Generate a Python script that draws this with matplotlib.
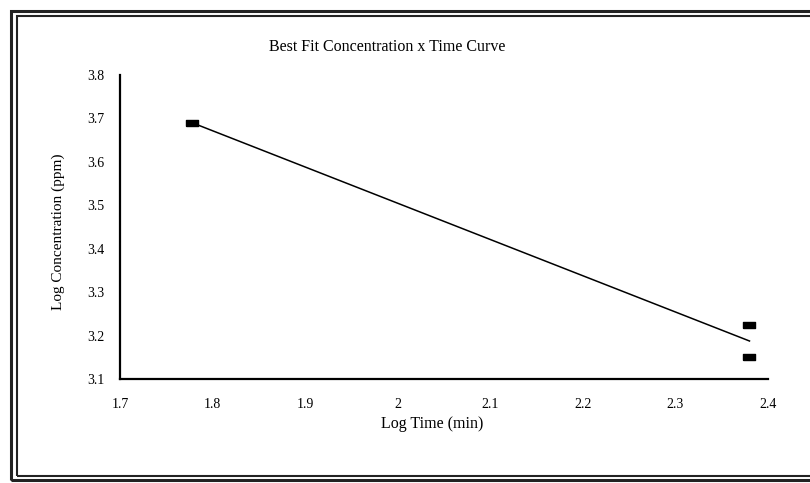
import numpy as np
import matplotlib
matplotlib.use('Agg')
import matplotlib.pyplot as plt
from matplotlib.patches import Rectangle

# data (log10 of time in min, log10 of concentration in ppm)
log_time = [1.778, 2.380, 2.380]
log_conc = [3.69, 3.225, 3.150]

xticks = [1.7, 1.8, 1.9, 2.0, 2.1, 2.2, 2.3, 2.4]
xtick_labels = ['1.7', '1.8', '1.9', '2', '2.1', '2.2', '2.3', '2.4']
yticks = [3.1, 3.2, 3.3, 3.4, 3.5, 3.6, 3.7, 3.8]
ytick_labels = ['3.1', '3.2', '3.3', '3.4', '3.5', '3.6', '3.7', '3.8']

plt.rcParams['font.family'] = ['Liberation Serif', 'DejaVu Serif']

fig = plt.figure(figsize=(8.1, 4.83), dpi=100)
W, H = 810.0, 483.0

# double frame round the whole chart (right side runs off the picture)
for x0, y0, x1, y1, lw in [(11, 11, 830, 480, 2.2), (17, 16, 830, 476, 1.5)]:
    fig.patches.append(Rectangle((x0 / W, 1 - y1 / H), (x1 - x0) / W, (y1 - y0) / H,
                                 transform=fig.transFigure, fill=False,
                                 edgecolor='#222222', linewidth=lw, clip_on=False))

ax = fig.add_axes([120 / W, 1 - 379 / H, (768 - 120) / W, (379 - 75) / H])

# best fit line through the points
coef = np.polyfit(log_time, log_conc, 1)
xs = np.array([min(log_time), max(log_time)])
ax.plot(xs, np.polyval(coef, xs), color='black', linewidth=1.1)

rect = [(-1, -0.55), (1, -0.55), (1, 0.55), (-1, 0.55), (-1, -0.55)]
ax.plot(log_time, log_conc, linestyle='none', marker=rect, markersize=9,
        color='black')

ax.set_xlim(1.7, 2.4)
ax.set_ylim(3.1, 3.8)
ax.set_xticks(xticks)
ax.set_xticklabels(xtick_labels)
ax.set_yticks(yticks)
ax.set_yticklabels(ytick_labels)
ax.tick_params(length=0, labelsize=10)
ax.tick_params(axis='x', pad=14)
ax.tick_params(axis='y', pad=11)
ax.spines['top'].set_visible(False)
ax.spines['right'].set_visible(False)
ax.spines['left'].set_linewidth(1.6)
ax.spines['bottom'].set_linewidth(1.6)

fig.text(387 / W, 1 - 47 / H, 'Best Fit Concentration x Time Curve',
         ha='center', va='center', fontsize=11.5)
fig.text(432 / W, 1 - 424 / H, 'Log Time (min)', ha='center', va='center',
         fontsize=11.5)
fig.text(58 / W, 1 - 232 / H, 'Log Concentration (ppm)', ha='center',
         va='center', rotation=90, fontsize=11)

fig.savefig('out.png', dpi=100)
